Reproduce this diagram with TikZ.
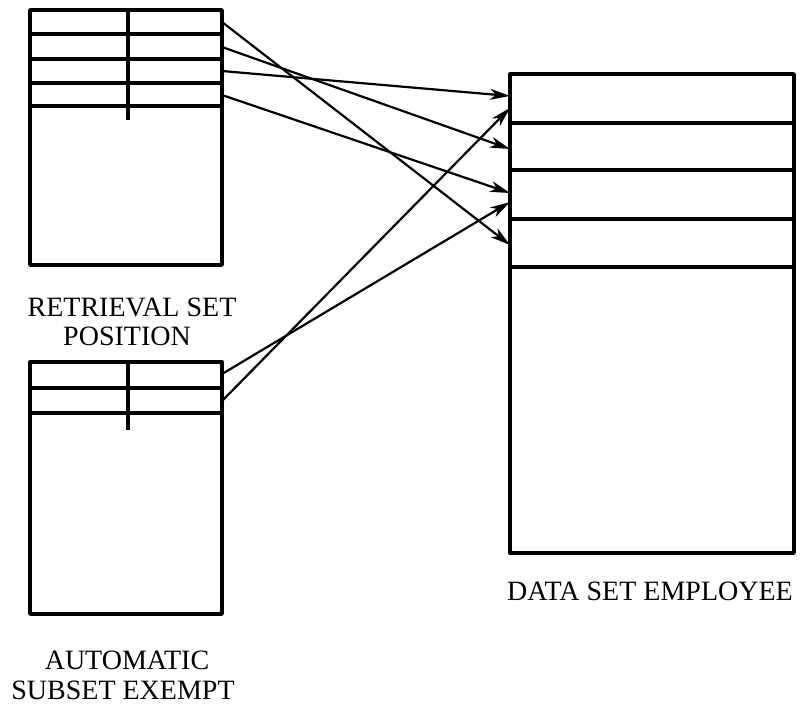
\documentclass[tikz,border=0pt]{standalone}
\usepackage{fontspec}
\setmainfont{Liberation Serif}
\usetikzlibrary{arrows.meta}
\tikzset{
  frame/.style={draw, line width=3.4pt, line join=round},
  rule/.style={line width=3.4pt},
  link/.style={line width=2.2pt, -{Stealth[length=20pt,width=11pt,inset=6pt]}},
  caption/.style={font=\fontsize{28}{29}\selectfont, align=center, inner sep=0pt}
}
\begin{document}
\begin{tikzpicture}[x=1pt,y=-1pt]
\useasboundingbox (0,0) rectangle (802,707);

% retrieval set POSITION
\draw[frame] (30,10) rectangle (222,265);
\foreach \y in {34,59,83,106} \draw[rule] (30,\y) -- (222,\y);
\draw[rule] (128,10) -- (128,120);
\coordinate (p1) at (222,22);
\coordinate (p2) at (222,47);
\coordinate (p3) at (222,71);
\coordinate (p4) at (222,95);
\node[caption, anchor=base] (lp1) at (132,316) {RETRIEVAL SET};
\node[caption, anchor=base] (lp2) at (127,345) {POSITION};

% automatic subset EXEMPT
\draw[frame] (30,362) rectangle (222,614);
\foreach \y in {388,413} \draw[rule] (30,\y) -- (222,\y);
\draw[rule] (128,362) -- (128,430);
\coordinate (a1) at (222,374);
\coordinate (a2) at (222,401);
\node[caption, anchor=base] (la1) at (127,669) {AUTOMATIC};
\node[caption, anchor=base] (la2) at (123,699) {SUBSET EXEMPT};

% data set EMPLOYEE
\draw[frame] (510,74) rectangle (794,553);
\foreach \y in {123,170,219,267} \draw[rule] (510,\y) -- (794,\y);
\coordinate (e1) at (510,96);
\coordinate (e2) at (510,108);
\coordinate (e3) at (510,149);
\coordinate (e4) at (510,193);
\coordinate (e5) at (510,202);
\coordinate (e6) at (510,245);
\node[caption, anchor=base] (le) at (650,600) {DATA SET EMPLOYEE};

% set pointers into the data set
\draw[link] (p1) -- (e6);
\draw[link] (p2) -- (e3);
\draw[link] (p3) -- (e1);
\draw[link] (p4) -- (e4);
\draw[link] (a1) -- (e5);
\draw[link] (a2) -- (e2);
\end{tikzpicture}
\end{document}
